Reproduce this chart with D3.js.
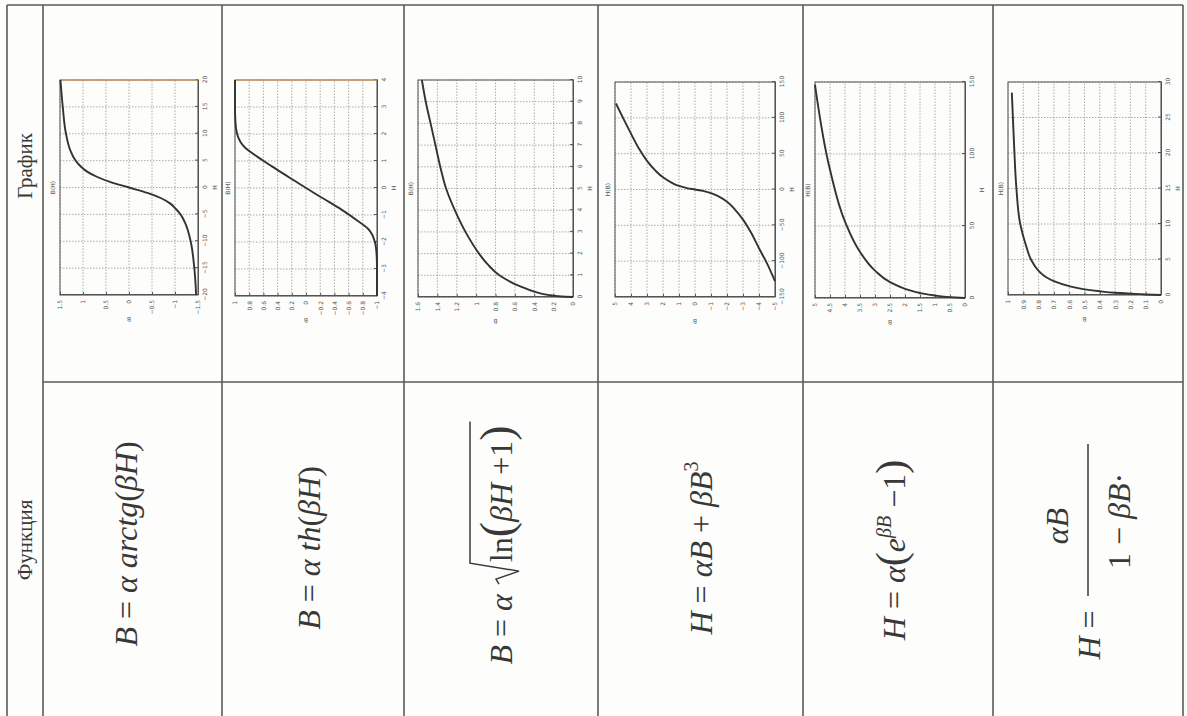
<!DOCTYPE html>
<html>
<head>
<meta charset="utf-8">
<script src="https://cdn.jsdelivr.net/npm/d3@7"></script>
<style>
  body { margin: 0; background: #fdfdfb; }
</style>
</head>
<body>
<div></div>
<script>
// table headers
var headers = ["Функция", "График"];

// formulas, one per row: [text, italic, font size, dy]
var f1 = [["B", 1], [" = "], ["α", 1], [" arctg", 1], ["("], ["βH", 1], [")"]];
var f2 = [["B", 1], [" = "], ["α", 1], [" th", 1], ["("], ["βH", 1], [")"]];
var f3a = [["B", 1], [" = "], ["α", 1]];
var f3b = [["ln"], ["(", 0, 46], ["βH", 1], [" +1"], [")", 0, 46]];
var f4 = [["H", 1], [" = "], ["αB", 1], [" + "], ["βB", 1], ["3", 0, 20, -14]];
var f5 = [["H", 1], [" = "], ["α", 1], ["(", 0, 42], ["e", 1], ["βB", 1, 20, -14], [" −1", 0, 32, 14], [")", 0, 42]];
var f6num = [["αB", 1]];
var f6den = [["1 − "], ["βB", 1], ["·"]];

// plot 1: B = a arctg(bH)
var p1H = [-20, -15, -10, -7, -5, -4, -3, -2, -1, 0, 1, 2, 3, 4, 5, 7, 10, 15, 20];
var p1B = [-1.46, -1.42, -1.34, -1.24, -1.12, -1.02, -0.9, -0.7, -0.4, 0, 0.4, 0.7, 0.92, 1.06, 1.16, 1.28, 1.37, 1.44, 1.49];
var p1Hticks = [-20, -15, -10, -5, 0, 5, 10, 15, 20];
var p1Bticks = [-1.5, -1, -0.5, 0, 0.5, 1, 1.5];

// plot 2: B = a th(bH)
var p2H = [-4, -3, -2.5, -2, -1.5, -1.2, -0.8, -0.4, 0, 0.4, 0.8, 1.2, 1.5, 2, 2.5, 3, 4];
var p2B = [-1, -1, -0.995, -0.97, -0.87, -0.72, -0.5, -0.25, 0, 0.24, 0.48, 0.71, 0.86, 0.97, 0.995, 1, 1];
var p2Hticks = [-4, -3, -2, -1, 0, 1, 2, 3, 4];
var p2Bticks = [-1, -0.8, -0.6, -0.4, -0.2, 0, 0.2, 0.4, 0.6, 0.8, 1];

// plot 3: B = a sqrt(ln(bH+1))
var p3H = [0, 0.02, 0.1, 0.25, 0.5, 1, 1.5, 2, 3, 4, 5, 6, 7, 8, 9, 10];
var p3B = [0, 0.12, 0.26, 0.4, 0.55, 0.76, 0.88, 0.97, 1.11, 1.22, 1.31, 1.37, 1.42, 1.47, 1.52, 1.56];
var p3Hticks = [0, 1, 2, 3, 4, 5, 6, 7, 8, 9, 10];
var p3Bticks = [0, 0.2, 0.4, 0.6, 0.8, 1, 1.2, 1.4, 1.6];

// plot 4: H = aB + bB^3
var p4B = [-5, -4.5, -4, -3.5, -3, -2.5, -2, -1.5, -1, -0.5, 0, 0.5, 1, 1.5, 2, 2.5, 3, 3.5, 4, 4.5, 4.94];
var p4H = [-128, -103, -82, -60, -42, -28, -17, -10, -5, -2, 0, 2, 5, 10, 17, 27, 40, 57, 78, 100, 120];
var p4Hticks = [-150, -100, -50, 0, 50, 100, 150];
var p4Bticks = [-5, -4, -3, -2, -1, 0, 1, 2, 3, 4, 5];

// plot 5: H = a(exp(bB) - 1)
var p5B = [0, 0.5, 1, 1.5, 2, 2.5, 3, 3.5, 4, 4.5, 5];
var p5H = [0, 0.6, 1.7, 3.5, 6.4, 11, 19, 32, 53, 89, 148];
var p5Hticks = [0, 50, 100, 150];
var p5Bticks = [0, 0.5, 1, 1.5, 2, 2.5, 3, 3.5, 4, 4.5, 5];

// plot 6: H = aB / (1 - bB)
var p6B = [0, 0.1, 0.2, 0.3, 0.4, 0.5, 0.6, 0.7, 0.75, 0.8, 0.85, 0.88, 0.92, 0.945, 0.96, 0.975];
var p6H = [0, 0.08, 0.2, 0.32, 0.52, 0.8, 1.25, 1.95, 2.5, 3.4, 5, 6.8, 10, 15, 21, 28.5];
var p6Hticks = [0, 5, 10, 15, 20, 25, 30];
var p6Bticks = [0, 0.1, 0.2, 0.3, 0.4, 0.5, 0.6, 0.7, 0.8, 0.9, 1];

var W = 1187, HH = 716;
var ink = "#383838";

var svg = d3.select("body").select("div").append("svg")
    .attr("width", W)
    .attr("height", HH)
    .style("display", "block")
    .style("font-family", "'Liberation Serif', 'DejaVu Serif', serif");

svg.append("rect").attr("width", W).attr("height", HH).attr("fill", "#fdfdfb");

// the scanned table lies on its side: draw it upright, then turn it a quarter left
var tbl = svg.append("g")
    .attr("transform", "translate(0," + HH + ") rotate(-90)");

// row edges (table's own y)
var rowEdges = [7, 43, 222, 404, 598, 803, 993, 1183];

rowEdges.forEach(function(r) {
  tbl.append("line")
    .attr("x1", 0).attr("x2", 711)
    .attr("y1", r).attr("y2", r)
    .attr("stroke", "#5a5a5a").attr("stroke-width", 1.6);
});
tbl.append("line")
  .attr("x1", 711).attr("x2", 711).attr("y1", 7).attr("y2", 1183)
  .attr("stroke", "#5a5a5a").attr("stroke-width", 1.6);
tbl.append("line")
  .attr("x1", 334).attr("x2", 334).attr("y1", 43).attr("y2", 1183)
  .attr("stroke", "#5a5a5a").attr("stroke-width", 1.4);

// header
tbl.append("text").attr("x", 176).attr("y", 32)
  .attr("text-anchor", "middle").attr("font-size", 21).attr("fill", ink)
  .text(headers[0]);
tbl.append("text").attr("x", 550).attr("y", 32)
  .attr("text-anchor", "middle").attr("font-size", 21).attr("fill", ink)
  .text(headers[1]);

function mathText(parent, x, y, parts, anchor) {
  var t = parent.append("text")
    .attr("x", x).attr("y", y)
    .attr("text-anchor", anchor || "middle")
    .attr("font-size", 32)
    .attr("fill", ink);
  parts.forEach(function(p) {
    var s = t.append("tspan").text(p[0]);
    if (p[1]) s.attr("font-style", "italic");
    if (p[2]) s.attr("font-size", p[2]);
    if (p[3]) s.attr("dy", p[3]);
  });
  return t;
}

mathText(tbl, 172, 137, f1);
mathText(tbl, 168, 320, f2);
mathText(tbl, 168, 712, f4);
mathText(tbl, 166, 905, f5);

// formula 3 with the root sign
var base3 = 512;
var t3a = mathText(tbl, 0, base3, f3a, "start");
var t3b = mathText(tbl, 0, base3, f3b, "start");
var w3a = t3a.node().getComputedTextLength();
var w3b = t3b.node().getComputedTextLength();
var total3 = w3a + 10 + 22 + w3b + 4;
var s3 = 173 - total3 / 2;
t3a.attr("x", s3);
var r0 = s3 + w3a + 10;
t3b.attr("x", r0 + 22);
tbl.append("path")
  .attr("d", "M" + r0 + "," + (base3 - 13) + "L" + (r0 + 5) + "," + (base3 - 16) +
             "L" + (r0 + 13) + "," + (base3 + 7) + "L" + (r0 + 21) + "," + (base3 - 42) +
             "L" + (r0 + 22 + w3b + 4) + "," + (base3 - 42))
  .attr("fill", "none").attr("stroke", ink).attr("stroke-width", 1.5);

// formula 6 as a fraction
mathText(tbl, 81, 1100, [["H", 1], [" ="]]);
mathText(tbl, 190, 1068, f6num);
mathText(tbl, 195, 1130, f6den);
tbl.append("line")
  .attr("x1", 120).attr("x2", 272).attr("y1", 1088).attr("y2", 1088)
  .attr("stroke", ink).attr("stroke-width", 1.5);

// plot frames in table coords: [x, y, width, height]
var frames = [[421, 60, 215, 138], [420, 235, 216, 142], [419, 418, 217, 155],
              [419, 615, 215, 160], [418, 815, 216, 150], [421, 1008, 213, 153]];

function drawPlot(f, hv, bv, hTicks, bTicks, title, mark) {
  var w = f[2], h = f[3];
  var g = tbl.append("g").attr("transform", "translate(" + f[0] + "," + f[1] + ")");

  var x = d3.scaleLinear().domain(d3.extent(hTicks)).range([0, w]);
  var y = d3.scaleLinear().domain(d3.extent(bTicks)).range([h, 0]);

  // grid
  g.selectAll(".gx").data(hTicks).enter().append("line")
    .attr("x1", function(d) { return x(d); }).attr("x2", function(d) { return x(d); })
    .attr("y1", 0).attr("y2", h)
    .attr("stroke", "#8a8a8a").attr("stroke-width", 0.7).attr("stroke-dasharray", "1.5,1.5");
  g.selectAll(".gy").data(bTicks).enter().append("line")
    .attr("y1", function(d) { return y(d); }).attr("y2", function(d) { return y(d); })
    .attr("x1", 0).attr("x2", w)
    .attr("stroke", "#8a8a8a").attr("stroke-width", 0.7).attr("stroke-dasharray", "1.5,1.5");

  // axes
  var fmt = d3.format("");
  var ax = g.append("g")
    .attr("transform", "translate(0," + h + ")")
    .call(d3.axisBottom(x).tickValues(hTicks).tickSizeInner(-3).tickSizeOuter(0).tickPadding(5).tickFormat(fmt));
  var ay = g.append("g")
    .call(d3.axisLeft(y).tickValues(bTicks).tickSizeInner(-3).tickSizeOuter(0).tickPadding(5).tickFormat(fmt));
  [ax, ay].forEach(function(a) {
    a.attr("font-size", 6).attr("font-family", "'DejaVu Sans', sans-serif");
    a.selectAll("text").attr("fill", "#555");
    a.selectAll("line").attr("stroke", "#555");
    a.select(".domain").attr("stroke", "#555");
  });

  g.append("rect").attr("width", w).attr("height", h)
    .attr("fill", "none").attr("stroke", "#555").attr("stroke-width", 1);
  if (mark) {
    g.append("line").attr("x1", w).attr("x2", w).attr("y1", 0).attr("y2", h)
      .attr("stroke", "#e4a25a").attr("stroke-width", 1.2);
  }

  var pts = hv.map(function(d, i) { return [d, bv[i]]; });
  var valueline = d3.line()
    .x(function(d) { return x(d[0]); })
    .y(function(d) { return y(d[1]); })
    .curve(d3.curveMonotoneX);
  g.append("path")
    .datum(pts)
    .attr("d", valueline)
    .attr("fill", "none")
    .attr("stroke", "#333")
    .attr("stroke-width", 1.9);

  g.append("text").attr("x", w / 2).attr("y", -5)
    .attr("text-anchor", "middle").attr("font-size", 6).attr("fill", "#555")
    .attr("font-family", "'DejaVu Sans', sans-serif").text(title);
  g.append("text").attr("x", w / 2).attr("y", h + 19)
    .attr("text-anchor", "middle").attr("font-size", 6).attr("fill", "#555")
    .attr("font-family", "'DejaVu Sans', sans-serif").text("H");
  g.append("text").attr("transform", "translate(-22," + (h / 2) + ") rotate(-90)")
    .attr("text-anchor", "middle").attr("font-size", 6).attr("fill", "#555")
    .attr("font-family", "'DejaVu Sans', sans-serif").text("B");
}

drawPlot(frames[0], p1H, p1B, p1Hticks, p1Bticks, "B(H)", true);
drawPlot(frames[1], p2H, p2B, p2Hticks, p2Bticks, "B(H)", true);
drawPlot(frames[2], p3H, p3B, p3Hticks, p3Bticks, "B(H)", false);
drawPlot(frames[3], p4H, p4B, p4Hticks, p4Bticks, "H(B)", false);
drawPlot(frames[4], p5H, p5B, p5Hticks, p5Bticks, "H(B)", false);
drawPlot(frames[5], p6H, p6B, p6Hticks, p6Bticks, "H(B)", false);
</script>
</body>
</html>
